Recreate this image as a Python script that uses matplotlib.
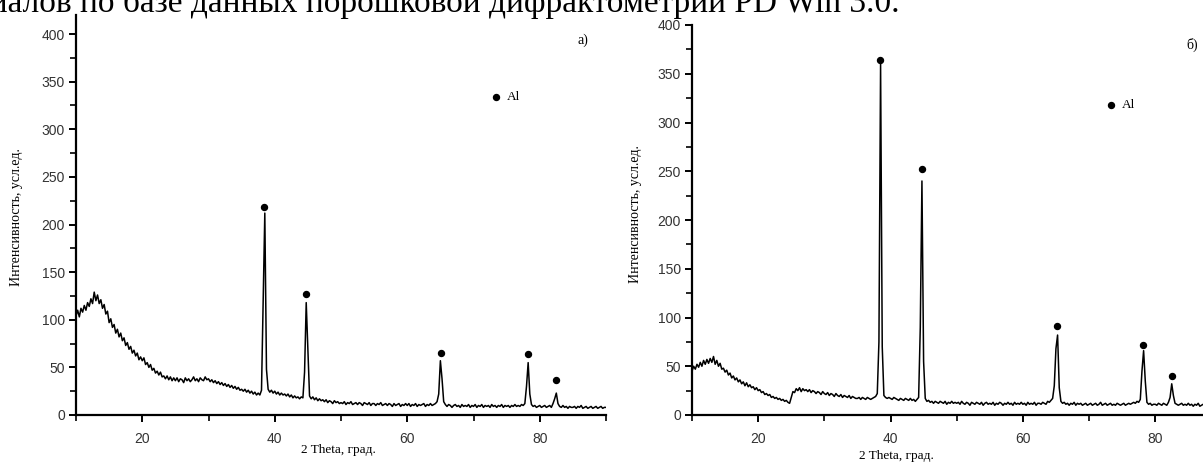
import matplotlib
matplotlib.use('Agg')
import matplotlib.pyplot as plt
import numpy as np
from matplotlib.ticker import MultipleLocator

# углы 2 Theta, шаг 0.25 град.
two_theta = np.arange(10, 90.01, 0.25)

# а) интенсивность, усл.ед.
int_a = [
    104, 110, 103, 112, 108, 115, 110, 118, 114, 122, 117, 129, 120, 126, 117, 121, 112, 116, 106, 109,
    97, 101, 92, 95, 86, 90, 82, 86, 78, 81, 73, 76, 69, 72, 65, 68, 62, 65, 58, 61,
    57, 60, 53, 55, 50, 53, 47, 49, 44, 46, 42, 45, 40, 41, 38, 41, 37, 40, 36, 39,
    36, 39, 35, 38, 37, 34, 39, 36, 38, 35, 37, 40, 36, 38, 35, 39, 37, 36, 40, 37,
    38, 35, 37, 34, 36, 33, 35, 32, 34, 31, 33, 30, 32, 29, 31, 28, 30, 27, 29, 26,
    27, 25, 27, 24, 26, 23, 25, 22, 24, 21, 23, 21, 26, 120, 212, 48, 27, 24, 26, 23,
    25, 22, 24, 21, 23, 21, 22, 20, 22, 19, 21, 18, 20, 18, 19, 17, 19, 18, 45, 118,
    70, 20, 17, 19, 16, 18, 15, 17, 15, 16, 14, 16, 13, 15, 14, 12, 15, 13, 14, 12,
    13, 12, 14, 11, 13, 12, 14, 11, 12, 13, 11, 13, 12, 10, 13, 12, 11, 13, 10, 12,
    12, 10, 12, 11, 13, 10, 11, 12, 10, 12, 11, 9, 12, 10, 11, 12, 9, 11, 10, 12,
    10, 12, 9, 11, 10, 12, 9, 11, 10, 11, 12, 9, 11, 10, 12, 10, 11, 12, 14, 22,
    57, 38, 14, 11, 9, 11, 10, 8, 10, 11, 9, 10, 8, 11, 9, 10, 9, 11, 8, 10,
    9, 11, 8, 10, 9, 11, 8, 10, 9, 10, 8, 11, 9, 10, 8, 10, 9, 11, 8, 10,
    9, 10, 8, 10, 9, 11, 9, 10, 9, 11, 10, 12, 30, 55, 22, 11, 9, 10, 8, 9,
    10, 8, 9, 10, 8, 9, 10, 8, 12, 17, 23, 12, 9, 8, 10, 8, 9, 7, 9, 8,
    8, 9, 7, 9, 8, 10, 7, 8, 9, 7, 8, 9, 7, 8, 9, 7, 8, 9, 7, 8,
    8,
]

# б) интенсивность, усл.ед.
int_b = [
    45, 50, 47, 52, 49, 54, 50, 56, 52, 57, 53, 58, 54, 60, 52, 56, 50, 53, 47, 48,
    44, 46, 41, 43, 38, 40, 36, 38, 34, 36, 32, 34, 30, 33, 29, 31, 28, 29, 26, 28,
    25, 26, 23, 24, 21, 22, 20, 21, 18, 19, 17, 18, 16, 17, 15, 16, 14, 15, 13, 12,
    18, 24, 23, 27, 25, 28, 24, 27, 25, 26, 24, 26, 23, 25, 24, 22, 24, 23, 21, 24,
    22, 21, 23, 20, 22, 21, 19, 22, 20, 19, 21, 18, 20, 19, 18, 20, 17, 19, 18, 17,
    17, 18, 16, 18, 17, 16, 18, 17, 16, 17, 18, 19, 22, 75, 360, 70, 20, 18, 17, 18,
    17, 16, 18, 17, 16, 15, 17, 16, 15, 17, 16, 15, 17, 15, 16, 14, 16, 18, 90, 240,
    55, 17, 14, 15, 13, 14, 12, 14, 13, 12, 14, 13, 12, 14, 11, 13, 12, 14, 12, 13,
    12, 13, 11, 14, 12, 11, 13, 12, 10, 13, 12, 11, 13, 12, 11, 13, 10, 12, 13, 11,
    12, 11, 13, 10, 12, 11, 13, 12, 10, 12, 11, 13, 11, 12, 10, 13, 11, 12, 11, 13,
    11, 12, 10, 13, 11, 12, 11, 13, 10, 12, 12, 11, 13, 12, 11, 14, 13, 15, 17, 30,
    68, 82, 28, 14, 12, 13, 11, 12, 10, 12, 11, 13, 10, 12, 11, 12, 10, 11, 12, 10,
    11, 12, 10, 11, 12, 10, 11, 13, 10, 11, 12, 10, 11, 12, 10, 11, 10, 12, 11, 10,
    11, 12, 10, 11, 12, 11, 12, 13, 12, 14, 13, 16, 45, 66, 35, 13, 11, 12, 10, 11,
    11, 10, 12, 11, 10, 12, 11, 10, 13, 18, 32, 20, 12, 11, 10, 11, 12, 10, 11, 10,
    12, 10, 11, 9, 11, 10, 12, 9, 10, 11, 9, 10, 11, 9, 10, 11, 9, 10, 11, 9,
    10,
]

# отметки рефлексов Al
peaks_a_x = [38.45, 44.75, 65.05, 78.25, 82.4]
peaks_a_y = [218, 127, 65, 64, 37]
peaks_b_x = [38.45, 44.75, 65.15, 78.2, 82.6]
peaks_b_y = [364, 252, 91, 72, 40]

W, H = 1203, 463
fig = plt.figure(figsize=(W / 100, H / 100), dpi=100)

serif = 'Liberation Serif'
sans = 'Liberation Sans'

# обрезанная строка текста сверху (в оригинале срезана краем)
fig.text(900 / W, 1 - 12 / H,
         'материалов по базе данных порошковой дифрактометрии PD Win 3.0.',
         ha='right', va='baseline', fontsize=24, family=serif)


def make_axes(rect, y, ymax, px, py, dot_x, dot_y, lx, ly, tag, tag_xy):
    ax = fig.add_axes(rect)
    ax.plot(two_theta, y, color='black', lw=1.1)
    ax.plot(dot_x, dot_y, 'o', color='black', ms=4.3)
    ax.plot([lx], [ly], 'o', color='black', ms=4.3)
    ax.text(lx + 1.6, ly, 'Al', fontsize=9.5, family=serif, va='center')
    ax.set_xlim(10, 90)
    ax.set_ylim(0, ymax)
    ax.xaxis.set_major_locator(MultipleLocator(20))
    ax.xaxis.set_minor_locator(MultipleLocator(10))
    ax.yaxis.set_major_locator(MultipleLocator(50))
    ax.yaxis.set_minor_locator(MultipleLocator(25))
    for s in ['top', 'right']:
        ax.spines[s].set_visible(False)
    for s in ['left', 'bottom']:
        ax.spines[s].set_linewidth(1.6)
    ax.tick_params(which='major', direction='out', length=5, width=1.4,
                   labelsize=10, labelcolor='#333333', pad=3)
    ax.tick_params(which='minor', direction='out', length=4, width=1.2)
    ax.tick_params(axis='x', which='major', pad=7)
    for lab in ax.get_xticklabels() + ax.get_yticklabels():
        lab.set_family(sans)
    fig.text(px[0] / W, 1 - px[1] / H, '2 Theta, град.', ha='center',
             va='center', fontsize=9.5, family=serif)
    fig.text(py[0] / W, 1 - py[1] / H, 'Интенсивность, усл.ед.', ha='center',
             va='center', rotation=90, fontsize=10, family=serif)
    fig.text(tag_xy[0] / W, 1 - tag_xy[1] / H, tag, ha='center', va='center',
             fontsize=10, family=serif)
    return ax


# а)
x0, y0 = 76, 415
make_axes([x0 / W, (H - y0) / H, 80 * 6.625 / W, 420 * 0.9525 / H],
          int_a, 420, (338, 450), (17, 217),
          peaks_a_x, peaks_a_y, 73.4, 334, 'а)', (583, 40))

# б)
x0, y0 = 692, 415
make_axes([x0 / W, (H - y0) / H, 80 * 6.617 / W, 400 * 0.975 / H],
          int_b, 400, (896, 456), (635, 214),
          peaks_b_x, peaks_b_y, 73.35, 318, 'б)', (1192, 45))

fig.savefig('out.png', dpi=100)
